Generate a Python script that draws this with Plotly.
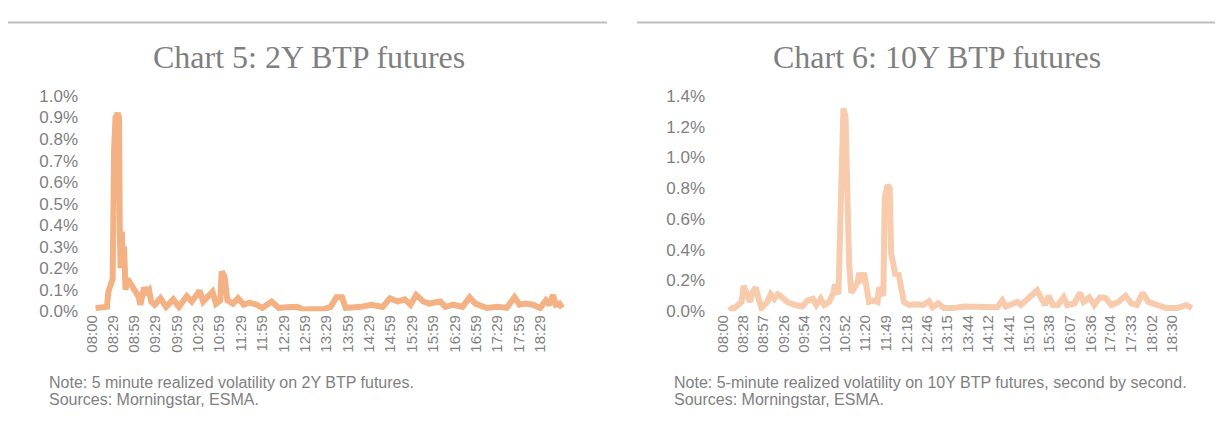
import plotly.graph_objects as go

# 2Y BTP futures: minutes after 08:00 and 5-min realized volatility (%)
min_2y = [5, 12, 21, 23, 26, 29, 31, 33, 36, 38, 39, 40, 42, 43, 45, 47, 50, 55, 60, 65, 68,
          73, 76, 80, 83, 88, 96, 104, 114, 122, 133, 140, 151, 156, 169, 174, 180, 182, 186,
          190, 198, 205, 213, 221, 231, 239, 252, 262, 273, 288, 296, 310, 325, 335, 343, 351,
          356, 377, 392, 408, 418, 429, 439, 447, 455, 465, 473, 481, 489, 496, 507, 520, 530,
          538, 554, 569, 582, 593, 600, 608, 619, 629, 637, 642, 647, 651, 656, 660]
vol_2y = [0.015, 0.015, 0.02, 0.09, 0.12, 0.15, 0.75, 0.90, 0.92, 0.90, 0.38, 0.20, 0.37, 0.20,
          0.30, 0.10, 0.15, 0.12, 0.09, 0.07, 0.03, 0.11, 0.09, 0.10, 0.045, 0.03, 0.06, 0.02,
          0.055, 0.02, 0.07, 0.045, 0.095, 0.045, 0.09, 0.035, 0.05, 0.185, 0.16, 0.05, 0.035,
          0.06, 0.03, 0.04, 0.03, 0.015, 0.045, 0.015, 0.018, 0.02, 0.008, 0.01, 0.01, 0.02,
          0.065, 0.065, 0.015, 0.02, 0.03, 0.02, 0.06, 0.045, 0.055, 0.03, 0.075, 0.045, 0.035,
          0.04, 0.045, 0.02, 0.03, 0.02, 0.065, 0.035, 0.015, 0.02, 0.015, 0.065, 0.03, 0.035,
          0.03, 0.015, 0.05, 0.03, 0.075, 0.03, 0.035, 0.015]
ticks_2y = ["08:00", "08:29", "08:59", "09:29", "09:59", "10:29", "10:59", "11:29", "11:59",
            "12:29", "12:59", "13:29", "13:59", "14:29", "14:59", "15:29", "15:59", "16:29",
            "16:59", "17:29", "17:59", "18:29"]
yvals_2y = [0.0, 0.1, 0.2, 0.3, 0.4, 0.5, 0.6, 0.7, 0.8, 0.9, 1.0]
ylabels_2y = ["0.0%", "0.1%", "0.2%", "0.3%", "0.4%", "0.5%", "0.6%", "0.7%", "0.8%", "0.9%", "1.0%"]

# 10Y BTP futures
min_10y = [9, 13, 21, 26, 29, 34, 38, 41, 46, 50, 54, 62, 67, 72, 77, 83, 90, 101, 111, 119,
           126, 131, 137, 142, 149, 155, 157, 162, 163, 167, 169, 172, 174, 175, 177, 180, 184,
           189, 191, 195, 198, 201, 205, 212, 217, 219, 225, 227, 231, 234, 236, 239, 242, 246,
           250, 254, 261, 271, 281, 289, 294, 302, 310, 323, 338, 354, 369, 385, 392, 397, 405,
           413, 418, 426, 434, 441, 447, 452, 457, 463, 470, 478, 483, 493, 501, 506, 514, 521,
           529, 537, 545, 555, 565, 573, 581, 589, 597, 604, 612, 622, 638, 650, 658]
vol_10y = [0.03, 0.01, 0.04, 0.06, 0.165, 0.11, 0.06, 0.12, 0.155, 0.08, 0.02, 0.06, 0.11, 0.08,
           0.11, 0.09, 0.06, 0.04, 0.03, 0.07, 0.08, 0.04, 0.08, 0.04, 0.06, 0.12, 0.175, 0.11,
           0.27, 1.15, 1.32, 1.26, 0.64, 0.37, 0.31, 0.12, 0.145, 0.185, 0.25, 0.185, 0.25, 0.145,
           0.06, 0.07, 0.06, 0.155, 0.10, 0.74, 0.82, 0.80, 0.37, 0.31, 0.23, 0.25, 0.145, 0.06,
           0.04, 0.045, 0.04, 0.065, 0.025, 0.05, 0.02, 0.02, 0.03, 0.03, 0.025, 0.025, 0.07,
           0.03, 0.045, 0.06, 0.04, 0.07, 0.10, 0.135, 0.08, 0.04, 0.10, 0.04, 0.04, 0.09, 0.04,
           0.05, 0.12, 0.06, 0.09, 0.04, 0.09, 0.085, 0.04, 0.06, 0.10, 0.05, 0.04, 0.12, 0.06,
           0.05, 0.03, 0.02, 0.02, 0.04, 0.02]
ticks_10y = ["08:00", "08:28", "08:57", "09:26", "09:54", "10:23", "10:52", "11:20", "11:49",
             "12:18", "12:46", "13:15", "13:44", "14:12", "14:41", "15:10", "15:38", "16:07",
             "16:36", "17:04", "17:33", "18:02", "18:30"]
yvals_10y = [0.0, 0.2, 0.4, 0.6, 0.8, 1.0, 1.2, 1.4]
ylabels_10y = ["0.0%", "0.2%", "0.4%", "0.6%", "0.8%", "1.0%", "1.2%", "1.4%"]

W, H = 1223, 434
GREY = "#7f7f7f"


def to_min(t):
    h, m = t.split(":")
    return (int(h) - 8) * 60 + int(m)


def px_x(p):
    return p / W


def px_y(p):
    return 1 - p / H


fig = go.Figure()
fig.add_trace(go.Scatter(x=min_2y, y=vol_2y, mode="lines", line=dict(color="#F4B183", width=6),
                         xaxis="x", yaxis="y", showlegend=False, hoverinfo="skip"))
fig.add_trace(go.Scatter(x=min_10y, y=vol_10y, mode="lines", line=dict(color="#F8CBAD", width=6),
                         xaxis="x2", yaxis="y2", showlegend=False, hoverinfo="skip"))


# x0px = pixel of the 08:00 tick; left/right = plot area edges in pixels
def xaxis(ticks, x0px, left, right, anchor):
    k = 0.7125  # px per minute
    return dict(domain=[px_x(left), px_x(right)],
                range=[(left - x0px) / k, (right - x0px) / k],
                tickvals=[to_min(t) for t in ticks], ticktext=ticks, tickangle=-90,
                tickfont=dict(family="Liberation Sans, Arial", size=15, color=GREY),
                showgrid=False, zeroline=False, showline=False, ticks="", anchor=anchor)


def yaxis(vals, labels, anchor):
    return dict(domain=[px_y(316), px_y(91)], range=[0, vals[-1]],
                tickvals=vals, ticktext=labels,
                tickfont=dict(family="Liberation Sans, Arial", size=17, color=GREY),
                showgrid=False, zeroline=False, showline=False, ticks="", anchor=anchor)


fig.update_layout(
    width=W, height=H, margin=dict(l=0, r=0, t=0, b=0),
    paper_bgcolor="white", plot_bgcolor="white",
    xaxis=xaxis(ticks_2y, 92, 79, 580, "y"),
    yaxis=yaxis(yvals_2y, ylabels_2y, "x"),
    xaxis2=xaxis(ticks_10y, 723, 706, 1210, "y2"),
    yaxis2=yaxis(yvals_10y, ylabels_10y, "x2"),
)

# rules above each chart
for x0, x1 in [(8, 607), (637, 1215)]:
    fig.add_shape(type="line", xref="paper", yref="paper", x0=px_x(x0), x1=px_x(x1),
                  y0=px_y(14), y1=px_y(14), line=dict(color="#bfbfbf", width=2))

titles = [("Chart 5: 2Y BTP futures", 309), ("Chart 6: 10Y BTP futures", 937)]
for text, cx in titles:
    fig.add_annotation(text=text, xref="paper", yref="paper", x=px_x(cx), y=px_y(50),
                       showarrow=False, xanchor="center", yanchor="middle",
                       font=dict(family="Liberation Serif, Times New Roman", size=32, color=GREY))

notes = [("Note: 5 minute realized volatility on 2Y BTP futures.", 47, 391),
         ("Sources: Morningstar, ESMA.", 47, 408),
         ("Note: 5-minute realized volatility on 10Y BTP futures, second by second.", 672, 391),
         ("Sources: Morningstar, ESMA.", 672, 408)]
for text, lx, cy in notes:
    fig.add_annotation(text=text, xref="paper", yref="paper", x=px_x(lx), y=px_y(cy),
                       showarrow=False, xanchor="left", yanchor="middle", align="left",
                       font=dict(family="Liberation Sans, Arial", size=16, color=GREY))

# drop the default 8px page margin so pixel positions line up
fig.write_html("out.html", config={"displayModeBar": False},
               post_script="document.body.style.margin='0';")
